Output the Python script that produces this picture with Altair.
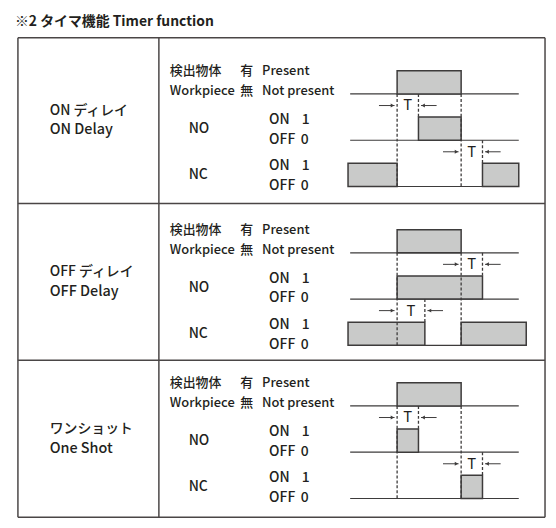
import altair as alt
import pandas as pd

# ---------------- data ----------------
title = "※2 タイマ機能 Timer function"
modes_jp = ["ON ディレイ", "OFF ディレイ", "ワンショット"]
modes_en = ["ON Delay", "OFF Delay", "One Shot"]
signals = ["Workpiece", "NO", "NC"]
wp_label_jp = ["検出物体", "有", "Present"]
wp_label_en = ["Workpiece", "無", "Not present"]
out_labels = ["NO", "NC"]
state_labels = [("ON", "1"), ("OFF", "0")]

# pulses (start, end) in units of the timer delay T; workpiece present from t=0 to t=3
wp_pulses = [[(0, 3)], [(0, 3)], [(0, 3)]]
no_pulses = [[(1, 3)], [(0, 4)], [(0, 1)]]
nc_pulses = [[(-2.3, 0), (4, 5.7)], [(-2.3, 1.3), (3, 6.05)], [(3, 4)]]
# dashed time markers: (t, from signal (its 0 line), to signal, to level)
markers = [
    [(0, "Workpiece", "NC", 0), (3, "Workpiece", "NC", 0), (1, "Workpiece", "NO", 1), (4, "NO", "NC", 1)],
    [(0, "Workpiece", "NC", 0), (3, "Workpiece", "NC", 0), (4, "Workpiece", "NO", 1), (1.3, "NO", "NC", 1)],
    [(0, "Workpiece", "NC", 0), (3, "Workpiece", "NC", 0), (1, "Workpiece", "NO", 1), (4, "NO", "NC", 1)],
]
# T spans: (start, end, signal above the annotation)
t_spans = [
    [(0, 1, "Workpiece"), (3, 4, "NO")],
    [(3, 4, "Workpiece"), (0, 1.3, "NO")],
    [(0, 1, "Workpiece"), (3, 4, "NO")],
]
time_axis = (-2.2, 5.7)

# ---------------- layout ----------------
W, H = 544, 514
ORIGIN = 8
T_PX = 21.5
T0_PAGE = 400
BASES = [92.7, 252.7, 407.0]
LEVEL = 23.3
TAB_L, TAB_R, TAB_T, TAB_B = 18, 549, 36, 519
ROW_LINES = [203, 361]
DIVIDER = 160
FONT = "Noto Sans CJK JP"
INK = "#231f20"
LINE = "#3d3b3b"
FILL = "#c9cac9"

sig_idx = {s: i for i, s in enumerate(signals)}


def low_y(p, s):
    return BASES[p] + 2 * LEVEL * sig_idx[s]


def level_y(p, s, lev):
    return low_y(p, s) - lev * LEVEL


x_px = alt.Scale(domain=[ORIGIN, ORIGIN + W], nice=False, zero=False)
x_t = alt.Scale(domain=[(ORIGIN - T0_PAGE) / T_PX, (ORIGIN + W - T0_PAGE) / T_PX], nice=False, zero=False)
y_sc = alt.Scale(domain=[ORIGIN, ORIGIN + H], nice=False, zero=False, reverse=True)

# ---------------- frames ----------------
pulse_rows, base_rows, mark_rows, arrow_rows, head_r, head_l, t_rows = [], [], [], [], [], [], []
for p in range(3):
    for s, plist in zip(signals, [wp_pulses[p], no_pulses[p], nc_pulses[p]]):
        base_rows.append(dict(t0=time_axis[0], t1=time_axis[1], y=low_y(p, s)))
        for a, b in plist:
            pulse_rows.append(dict(t0=a, t1=b, yh=level_y(p, s, 1), yl=level_y(p, s, 0)))
    for t, s_from, s_to, lev in markers[p]:
        mark_rows.append(dict(t=t, y1=low_y(p, s_from), y2=level_y(p, s_to, lev)))
    for a, b, s in t_spans[p]:
        y = low_y(p, s) + LEVEL / 2
        arrow_rows.append(dict(t0=a - 0.85, t1=a - 0.12, y=y))
        arrow_rows.append(dict(t0=b + 0.12, t1=b + 0.85, y=y))
        head_r.append(dict(t=a - 0.22, y=y))
        head_l.append(dict(t=b + 0.22, y=y))
        t_rows.append(dict(t=(a + b) / 2, y=y, txt="T"))

pulses = pd.DataFrame(pulse_rows)
bases = pd.DataFrame(base_rows)
marks = pd.DataFrame(mark_rows)
arrows = pd.DataFrame(arrow_rows)
heads_r = pd.DataFrame(head_r)
heads_l = pd.DataFrame(head_l)
tlabels = pd.DataFrame(t_rows)

table_rows = [
    dict(x=TAB_L, x2=TAB_R, y=TAB_T, y2=TAB_T),
    dict(x=TAB_L, x2=TAB_R, y=TAB_B, y2=TAB_B),
    dict(x=TAB_L, x2=TAB_L, y=TAB_T, y2=TAB_B),
    dict(x=TAB_R, x2=TAB_R, y=TAB_T, y2=TAB_B),
    dict(x=DIVIDER, x2=DIVIDER, y=TAB_T, y2=TAB_B),
] + [dict(x=TAB_L, x2=TAB_R, y=r, y2=r) for r in ROW_LINES]
table = pd.DataFrame(table_rows)

row_edges = [TAB_T] + ROW_LINES + [TAB_B]
text_rows = []
for p in range(3):
    c = (row_edges[p] + row_edges[p + 1]) / 2
    text_rows.append(dict(x=50, y=c - 10, txt=modes_jp[p], fs=14))
    text_rows.append(dict(x=50, y=c + 10, txt=modes_en[p], fs=14.5))
    B = BASES[p]
    for x, t in zip([171, 242, 264], wp_label_jp):
        text_rows.append(dict(x=x, y=B - 23, txt=t, fs=13))
    for x, t in zip([171, 242, 264], wp_label_en):
        text_rows.append(dict(x=x, y=B - 3, txt=t, fs=13))
    for k, lab in enumerate(out_labels):
        off = 46.6 * k
        text_rows.append(dict(x=190, y=B + 35 + off, txt=lab, fs=14))
        text_rows.append(dict(x=271, y=B + 26 + off, txt=state_labels[0][0], fs=14))
        text_rows.append(dict(x=304, y=B + 26 + off, txt=state_labels[0][1], fs=14))
        text_rows.append(dict(x=271, y=B + 46 + off, txt=state_labels[1][0], fs=14))
        text_rows.append(dict(x=303, y=B + 46 + off, txt=state_labels[1][1], fs=14))
texts = pd.DataFrame(text_rows)
title_df = pd.DataFrame([dict(x=15, y=20, txt=title)])

# ---------------- layers ----------------
X = lambda f, sc: alt.X(f, type="quantitative", scale=sc, axis=None)
Y = lambda f: alt.Y(f, type="quantitative", scale=y_sc, axis=None)

table_layer = alt.Chart(table).mark_rule(color="#4a4646", strokeWidth=1.5).encode(
    x=X("x", x_px), x2="x2", y=Y("y"), y2="y2")

base_layer = alt.Chart(bases).mark_rule(color=LINE, strokeWidth=1.2).encode(
    x=X("t0", x_t), x2="t1", y=Y("y"))

pulse_layer = alt.Chart(pulses).mark_rect(fill=FILL, stroke=LINE, strokeWidth=1.5).encode(
    x=X("t0", x_t), x2="t1", y=Y("yh"), y2="yl")

mark_layer = alt.Chart(marks).mark_rule(color=LINE, strokeWidth=1.3, strokeDash=[3, 2]).encode(
    x=X("t", x_t), y=Y("y1"), y2="y2")

arrow_layer = alt.Chart(arrows).mark_rule(color=LINE, strokeWidth=1).encode(
    x=X("t0", x_t), x2="t1", y=Y("y"))

head_r_layer = alt.Chart(heads_r).mark_point(shape="triangle-right", filled=True, size=16, color=LINE, opacity=1).encode(
    x=X("t", x_t), y=Y("y"))
head_l_layer = alt.Chart(heads_l).mark_point(shape="triangle-left", filled=True, size=16, color=LINE, opacity=1).encode(
    x=X("t", x_t), y=Y("y"))

t_layer = alt.Chart(tlabels).mark_text(font=FONT, fontSize=15, color=INK, align="center", baseline="middle").encode(
    x=X("t", x_t), y=Y("y"), text="txt:N")

text_layer = alt.Chart(texts).mark_text(font=FONT, fontWeight=500, color=INK, align="left", baseline="middle").encode(
    x=X("x", x_px), y=Y("y"), text="txt:N", size=alt.Size("fs:Q", scale=None, legend=None))

title_layer = alt.Chart(title_df).mark_text(font=FONT, fontSize=14, fontWeight=600, color=INK,
                                            align="left", baseline="middle").encode(
    x=X("x", x_px), y=Y("y"), text="txt:N")

chart = alt.layer(
    table_layer, base_layer, pulse_layer, mark_layer, arrow_layer, head_r_layer, head_l_layer,
    t_layer, text_layer, title_layer
).resolve_scale(x="independent").properties(
    width=W, height=H, padding=0, autosize=alt.AutoSizeParams(type="none")
).configure_view(stroke=None)

chart.save("out.html", embed_options={"renderer": "svg", "actions": False})
